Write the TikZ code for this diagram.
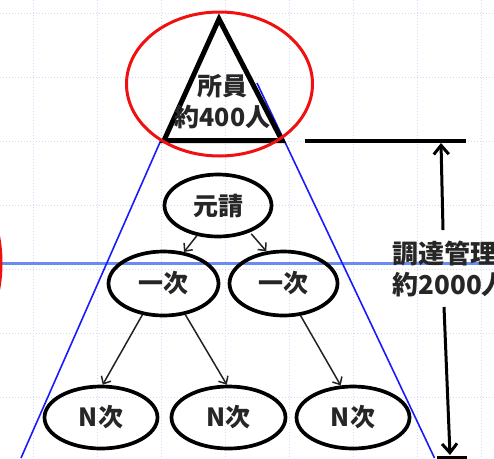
\documentclass[tikz,border=0pt]{standalone}
\usepackage{fontspec}
\newfontfamily\jp{Noto Sans CJK JP}
\usetikzlibrary{arrows.meta,shapes.geometric}
\definecolor{gridblue}{HTML}{CFDAF7}
\definecolor{hblue}{HTML}{6A8CF0}
\definecolor{sblue}{HTML}{1A1AFF}
\definecolor{ringred}{HTML}{F01010}
\definecolor{arrowgray}{HTML}{222222}
\begin{document}
\begin{tikzpicture}[x=1pt,y=-1pt,
  gridline/.style={draw=gridblue, line width=1pt, dash pattern=on 1.2pt off 1.8pt},
  jptext/.style={font=\jp\bfseries\fontsize{25}{31}\selectfont, text=black!85},
  org/.style={ellipse, draw=black, line width=3.7pt, inner sep=0pt,
    minimum width=110pt, minimum height=63pt, jptext},
  thinarrow/.style={draw=arrowgray, line width=1.5pt,
    -{Straight Barb[length=6pt,width=11pt,line width=1.5pt]}},
  dimarrow/.style={draw=black, line width=3pt,
    -{Straight Barb[length=9pt,width=15pt,line width=3pt]}},
  ring/.style={draw=ringred, line width=3pt},
]
\useasboundingbox (0,0) rectangle (494,458);
\clip (0,0) rectangle (494,458);

% background grid
\foreach \x in {33,97,...,481} \draw[gridline] (\x,0) -- (\x,458);
\foreach \y in {13,77,...,397} \draw[gridline] (0,\y) -- (494,\y);

% blue guide lines
\draw[draw=hblue, line width=2.2pt] (0,263.5) -- (494,263.5);
\draw[draw=sblue, line width=1.6pt] (161,140) -- (21,458);
\draw[draw=sblue, line width=1.6pt] (257,83) -- (434.5,458);

% triangle with text
\draw[line width=5pt, line join=miter] (219,19) -- (282,140.5) -- (164,140.5) -- cycle;
\node[jptext, align=center] (staff) at (222.5,101.5) {所員\\約400人};

% red rings
\draw[ring] (219.5,84) ellipse [x radius=93, y radius=72];
\draw[ring] (-34,263) ellipse [x radius=35, y radius=73];

% organisation nodes
\node[org, minimum width=107pt, minimum height=62pt] (prime) at (218,205.5) {元請};
\node[org, minimum width=110pt, minimum height=64pt] (first1) at (163.5,283.5) {一次};
\node[org, minimum width=108pt, minimum height=64pt] (first2) at (283.5,283.5) {一次};
\node[org, minimum width=113pt, minimum height=62pt] (nth1) at (101,417.5) {N次};
\node[org, minimum width=114pt, minimum height=62pt] (nth2) at (228.5,417.5) {N次};
\node[org, minimum width=113pt, minimum height=62pt] (nth3) at (353,417.5) {N次};

% connectors
\draw[thinarrow] (prime.235) -- (first1.57);
\draw[thinarrow, shorten <=2pt] (prime.320) -- (first2.118);
\draw[thinarrow] (first1.236) -- (nth1.87);
\draw[thinarrow] (first1.305) -- (nth2.93);
\draw[thinarrow] (first2.298) -- (nth3.111);

% dimension on the right
\coordinate (lineL) at (305,141);
\coordinate (lineR) at (466,141);
\coordinate (barL) at (437,457.5);
\coordinate (barR) at (467,457.5);
\coordinate (upFrom) at (443,230);
\coordinate (upTo) at (441,143);
\coordinate (downFrom) at (444,307);
\coordinate (downTo) at (450,455);
\draw[line width=3.5pt] (lineL) -- (lineR);
\draw[line width=3.5pt] (barL) -- (barR);
\draw[dimarrow] (upFrom) -- (upTo);
\draw[dimarrow] (downFrom) -- (downTo);
\node[jptext, anchor=west, align=left, font=\jp\bfseries\fontsize{26}{31}\selectfont] (total) at (389,268.5) {調達管理\\約2000人};
\end{tikzpicture}
\end{document}
